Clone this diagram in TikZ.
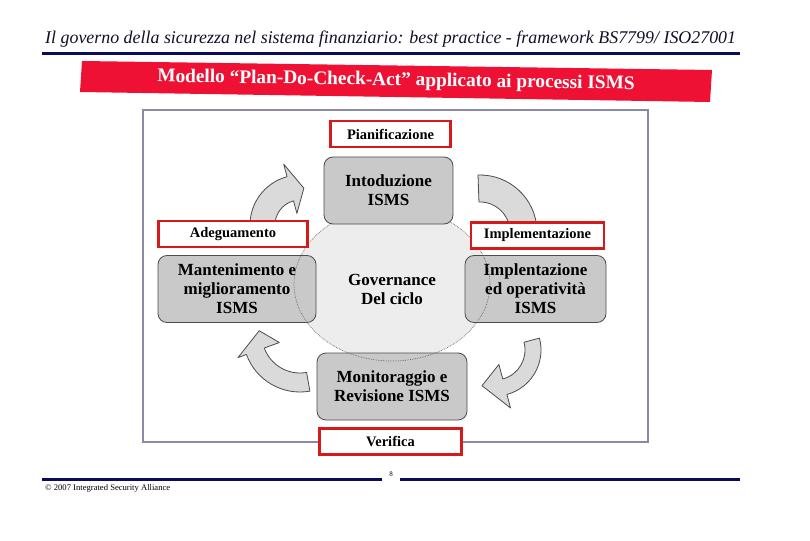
\documentclass[tikz,border=0pt]{standalone}
\usepackage{fontspec}
\setmainfont{Liberation Serif}
\definecolor{navy}{HTML}{0B0B5C}
\definecolor{headtext}{HTML}{10102A}
\definecolor{bannerred}{HTML}{EE1133}
\definecolor{boxred}{HTML}{D61A1A}
\definecolor{boxgray}{HTML}{C9C9C9}
\definecolor{framec}{HTML}{8A8AA8}
\definecolor{arrowgray}{HTML}{DADADA}
\definecolor{ellgray}{HTML}{EDEDED}
\newcommand{\cvarrow}[9]{%
  \draw[carrow] ([shift={(#3:#7)}]#1,#2) arc[start angle=#3,end angle=#4,radius=#7]
    -- ([shift={(#4:#9)}]#1,#2) -- ([shift={(#5:\tipr)}]#1,#2)
    -- ([shift={(#4:#8)}]#1,#2) -- ([shift={(#4:#6)}]#1,#2)
    arc[start angle=#4,end angle=#3,radius=#6] -- cycle;}
\begin{document}
\begin{tikzpicture}[x=1pt,y=-1pt,
  redbox/.style={draw=boxred, line width=2.6pt, fill=white, inner sep=0pt,
    font=\bfseries\fontsize{14.5}{16}\selectfont},
  graybox/.style={draw=black!70, fill=boxgray, rounded corners=9pt, line width=0.8pt,
    inner sep=0pt, align=center, font=\bfseries\fontsize{17}{19}\selectfont},
  carrow/.style={draw=black!70, fill=arrowgray, line width=0.8pt, line join=round},
  navyline/.style={draw=navy, line width=3pt}]
\useasboundingbox (0,0) rectangle (810,540);
\fill[white] (0,0) rectangle (810,540);
% header
\node[anchor=base west, inner sep=0pt, text=headtext, font=\itshape\fontsize{17.9}{20}\selectfont] (title) at (45,44)
  {Il governo della sicurezza nel sistema finanziario: best practice - framework BS7799/ ISO27001};
\coordinate (hl1) at (42,54); \coordinate (hl2) at (740,54);
\draw[navyline] (hl1) -- (hl2);
% banner
\fill[bannerred] (82,61) -- (712,70) -- (710,102) -- (80,92) -- cycle;
\node[rotate=-0.9, text=white, inner sep=0pt, font=\bfseries\fontsize{19.3}{21}\selectfont] (banner) at (396,81)
  {Modello “Plan-Do-Check-Act” applicato ai processi ISMS};
% frame
\node[draw=framec, line width=1.1pt, minimum width=505pt, minimum height=332pt, inner sep=0pt] (frame) at (395.5,276) {};
% arrows
\def\tipr{37}
\cvarrow{300}{225}{175}{255}{276}{25}{50}{12}{63}
\def\tipr{43}
\cvarrow{480}{232}{268}{358}{378}{30}{57}{16}{72}
\def\tipr{38}
\cvarrow{495}{350}{-15}{75}{110}{30}{46}{15}{60}
\def\tipr{41}
\cvarrow{300}{335}{80}{160}{186}{38}{57}{22}{66}
% ellipse fill
\fill[ellgray] (392,284) ellipse [x radius=98, y radius=77];
% gray boxes
\node[graybox, minimum width=158pt, minimum height=67pt] (act) at (237,289) {Mantenimento e\\miglioramento\\ISMS};
\node[graybox, minimum width=141pt, minimum height=67pt] (do) at (535.5,289) {Implentazione\\ed operatività\\ISMS};
\node[graybox, minimum width=150pt, minimum height=67pt] (check) at (392,386.5) {Monitoraggio e\\Revisione ISMS};
\node[inner sep=0pt, align=center, font=\bfseries\fontsize{17}{19}\selectfont] (gov) at (392,289) {Governance\\Del ciclo};
\draw[black!60, densely dotted, line width=0.7pt] (392,284) ellipse [x radius=98, y radius=77];
\node[graybox, minimum width=129pt, minimum height=67pt] (plan) at (388.5,190.5) {Intoduzione\\ISMS};
% red label boxes
\node[redbox, minimum width=120pt, minimum height=26pt] (pian) at (390.5,134) {Pianificazione};
\node[redbox, minimum width=149pt, minimum height=26pt] (adeg) at (233,234) {Adeguamento};
\node[redbox, minimum width=133pt, minimum height=26pt] (impl) at (537.5,235.5) {Implementazione};
\node[redbox, minimum width=142pt, minimum height=26pt] (ver) at (390.5,441.5) {Verifica};
% footer
\coordinate (fl1) at (42,479); \coordinate (fl2) at (382,479);
\coordinate (fr1) at (400,479); \coordinate (fr2) at (740,479);
\draw[navyline] (fl1) -- (fl2);
\draw[navyline] (fr1) -- (fr2);
\node[inner sep=0pt, font=\fontsize{7}{8}\selectfont] (pg) at (391,474) {8};
\node[anchor=west, inner sep=0pt, font=\fontsize{8.6}{10}\selectfont] (copy) at (45,488) {© 2007 Integrated Security Alliance};
\end{tikzpicture}
\end{document}
